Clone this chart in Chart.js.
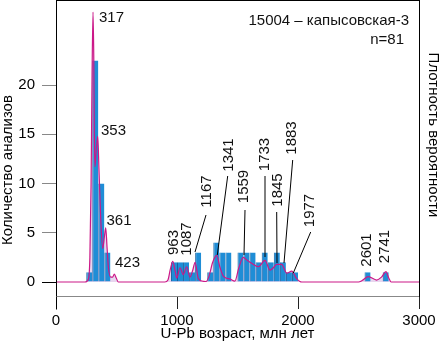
<!DOCTYPE html>
<html>
<head>
<meta charset="utf-8">
<script src="https://cdn.jsdelivr.net/npm/chart.js@4.4.0/dist/chart.umd.min.js"></script>
<style>
html,body{margin:0;padding:0;background:#fff}
#wrap{position:relative;width:441px;height:350px}
#frame{position:absolute;left:56px;top:0;width:363px;height:297px;box-sizing:border-box;
       border-left:1px solid #000;border-top:1px solid #000;border-bottom:1px solid #888;pointer-events:none}
</style>
</head>
<body>
<div id="wrap">
<canvas id="chart" width="441" height="350"></canvas>
<div id="frame"></div>
</div>
<script>
// histogram: bin start (Ma) and number of analyses, bins are 50 Ma wide
const binStarts = [250, 300, 350, 400,
                   950, 1000, 1050, 1100, 1150,
                   1250, 1300, 1350, 1400,
                   1500, 1550, 1600, 1650, 1700, 1750, 1800, 1850, 1900, 1950,
                   2550, 2700];
const counts = [1, 22.5, 10, 3,
                2, 2, 2, 1, 3,
                1, 4, 3, 3,
                3, 3, 3, 2, 3, 2, 3, 2, 1, 1,
                1, 1];
const binWidth = 50;

// probability density curve (age Ma, density in count units)
const densAges = [0, 240, 268, 280, 290, 298, 306, 312, 317, 322, 333, 345, 355, 369, 386, 400, 411, 422, 433, 452, 468, 482, 498, 515,
                  900, 925, 945, 965, 985, 998, 1025, 1052, 1080, 1107, 1130, 1150, 1176, 1205, 1240,
                  1265, 1295, 1328, 1355, 1383, 1438, 1479,
                  1510, 1548, 1580, 1617, 1672, 1727, 1769, 1800, 1824, 1865, 1907, 1948, 1989, 2031,
                  2500, 2530, 2581, 2650, 2690, 2727, 2750, 2770, 3000];
const densVals = [0, 0, 0.3, 2.5, 10, 21, 27.4, 23, 15, 11.7, 13.5, 14.8, 11.5, 6.6, 3.4, 4.6, 5.5, 3.5, 1.5, 0.5, 0.5, 0.8, 0.4, 0,
                  0, 0.2, 1.3, 2.1, 1.1, 0.4, 1.45, 0.75, 1.55, 0.5, 1.2, 2.0, 0.35, 0.1, 0.05,
                  0.6, 2.0, 2.7, 1.5, 0.6, 0.3, 0.1,
                  1.4, 2.5, 2.2, 1.9, 1.55, 2.2, 1.2, 1.5, 1.8, 1.8, 0.9, 1.1, 0.35, 0,
                  0, 0.15, 0.55, 0.2, 0.5, 1.05, 0.4, 0, 0];

const xTicks = [0, 1000, 2000, 3000];
const yTicks = [0, 5, 10, 15, 20];

const sampleName = '15004 – капысовская-3';
const nText = 'n=81';

const FAMILY = '"Liberation Sans", Arial, sans-serif';
const FONT = '15px ' + FAMILY;

// peak age labels: text, where it sits, optional leader line to the peak
const peakLabels = [
  {t: '317', x: 99, y: 17.5},
  {t: '353', x: 101, y: 131},
  {t: '361', x: 106.5, y: 221},
  {t: '423', x: 115, y: 262.5},
  {t: '963', x: 173.5, y: 242.5, rot: true},
  {t: '1087', x: 186.5, y: 239, rot: true},
  {t: '1167', x: 206.5, y: 191.5, rot: true, line: [206, 215, 195, 252]},
  {t: '1341', x: 228.5, y: 155, rot: true, line: [227.7, 176, 217.3, 255]},
  {t: '1559', x: 244, y: 186.5, rot: true, line: [245, 210, 244, 255]},
  {t: '1733', x: 264.5, y: 154.5, rot: true, line: [265, 176, 265, 257]},
  {t: '1845', x: 277.5, y: 190, rot: true, line: [276.7, 212, 277, 263]},
  {t: '1883', x: 292, y: 138, rot: true, line: [292.7, 160, 284, 263]},
  {t: '1977', x: 310, y: 210.5, rot: true, line: [310.7, 232, 293.3, 273]},
  {t: '2601', x: 366.7, y: 250, rot: true},
  {t: '2741', x: 385, y: 246.5, rot: true}
];

function drawFrame(chart) {
  const ctx = chart.ctx, a = chart.chartArea;
  const L = Math.round(a.left) + 0.5, T = Math.round(a.top) + 0.5;
  const R = Math.round(a.right), B = Math.round(a.bottom) + 0.5;
  ctx.save();
  ctx.lineWidth = 1;
  ctx.strokeStyle = '#000';
  ctx.beginPath();
  ctx.moveTo(L, B + 13); ctx.lineTo(L, T); ctx.lineTo(R, T);
  ctx.stroke();
  ctx.strokeStyle = '#888';
  ctx.beginPath();
  ctx.moveTo(L, B); ctx.lineTo(R, B);
  ctx.stroke();
  ctx.restore();
}

const extras = {
  id: 'extras',
  afterDraw(chart) {
    const ctx = chart.ctx;
    drawFrame(chart);
    ctx.save();
    ctx.lineWidth = 1;
    ctx.strokeStyle = '#000';
    ctx.font = FONT;
    ctx.fillStyle = '#111';
    ctx.textBaseline = 'middle';

    // leader lines
    peakLabels.forEach(l => {
      if (!l.line) return;
      ctx.beginPath();
      ctx.moveTo(l.line[0], l.line[1]);
      ctx.lineTo(l.line[2], l.line[3]);
      ctx.stroke();
    });

    peakLabels.forEach(l => {
      if (l.rot) {
        ctx.save();
        ctx.translate(l.x, l.y);
        ctx.rotate(-Math.PI / 2);
        ctx.textAlign = 'center';
        ctx.fillText(l.t, 0, 0);
        ctx.restore();
      } else {
        ctx.textAlign = 'left';
        ctx.fillText(l.t, l.x, l.y);
      }
    });

    ctx.textAlign = 'right';
    ctx.fillText(sampleName, 409, 21);
    ctx.fillText(nText, 404, 40);

    // axis titles
    ctx.fillStyle = '#000';
    ctx.textAlign = 'center';
    ctx.save();
    ctx.translate(7.5, 170);
    ctx.rotate(-Math.PI / 2);
    ctx.fillText('Количество анализов', 0, 0);
    ctx.restore();
    ctx.save();
    ctx.translate(433, 135);
    ctx.rotate(Math.PI / 2);
    ctx.fillText('Плотность вероятности', 0, 0);
    ctx.restore();
    ctx.restore();
  }
};

const histData = binStarts.map((s, i) => ({x: s + binWidth / 2, y: counts[i]}));
const densData = densAges.map((a, i) => ({x: a, y: densVals[i]}));

new Chart(document.getElementById('chart').getContext('2d'), {
  data: {
    datasets: [
      {
        type: 'line',
        data: densData,
        yAxisID: 'y2',
        borderColor: '#cc1888',
        borderWidth: 1.2,
        backgroundColor: 'rgba(205,165,220,0.45)',
        fill: 'origin',
        pointRadius: 0,
        cubicInterpolationMode: 'monotone',
        order: 0
      },
      {
        type: 'bar',
        data: histData,
        yAxisID: 'y',
        backgroundColor: '#1f8dd6',
        borderColor: '#17609e',
        borderWidth: {left: 1, right: 0, top: 0, bottom: 0},
        borderSkipped: false,
        inflateAmount: 0,
        barPercentage: 1,
        categoryPercentage: 1,
        order: 1
      }
    ]
  },
  options: {
    responsive: false,
    animation: false,
    devicePixelRatio: 1,
    events: [],
    layout: {padding: 0},
    plugins: {
      legend: {display: false},
      tooltip: {enabled: false},
      filler: {drawTime: 'beforeDatasetsDraw'}
    },
    scales: {
      x: {
        type: 'linear',
        position: 'bottom',
        offset: false,
        min: 0,
        max: 3000,
        afterBuildTicks: s => { s.ticks = xTicks.map(v => ({value: v})); },
        afterFit: s => { s.height = 54; s.paddingLeft = 0; s.paddingRight = 0; },
        ticks: {
          color: '#000', font: {family: FAMILY, size: 15}, padding: 3, maxRotation: 0,
          callback: v => String(v)
        },
        grid: {offset: false, drawOnChartArea: false, tickLength: 13, tickColor: '#222'},
        border: {display: true, color: '#888', width: 1},
        title: {
          display: true,
          text: 'U-Pb возраст, млн лет',
          color: '#000',
          font: {family: FAMILY, size: 15, lineHeight: 1},
          padding: {top: 0, bottom: 8.5}
        }
      },
      y: {
        position: 'left',
        min: -1.42,
        max: 28.63,
        afterBuildTicks: s => { s.ticks = yTicks.map(v => ({value: v})); },
        afterFit: s => { s.width = 56; s.paddingTop = 0; s.paddingBottom = 0; },
        ticks: {color: '#000', font: {family: FAMILY, size: 15}, padding: 7},
        grid: {
          drawOnChartArea: false,
          tickLength: 14,
          tickColor: c => (c.tick && c.tick.value === 0 ? '#000' : '#888')
        },
        border: {display: true, color: '#000', width: 1}
      },
      y2: {
        position: 'right',
        min: -1.42,
        max: 28.63,
        afterFit: s => { s.width = 22; s.paddingTop = 0; s.paddingBottom = 0; },
        ticks: {display: false},
        grid: {display: false},
        border: {display: true, color: '#000', width: 1}
      }
    }
  },
  plugins: [extras]
});
</script>
</body>
</html>
